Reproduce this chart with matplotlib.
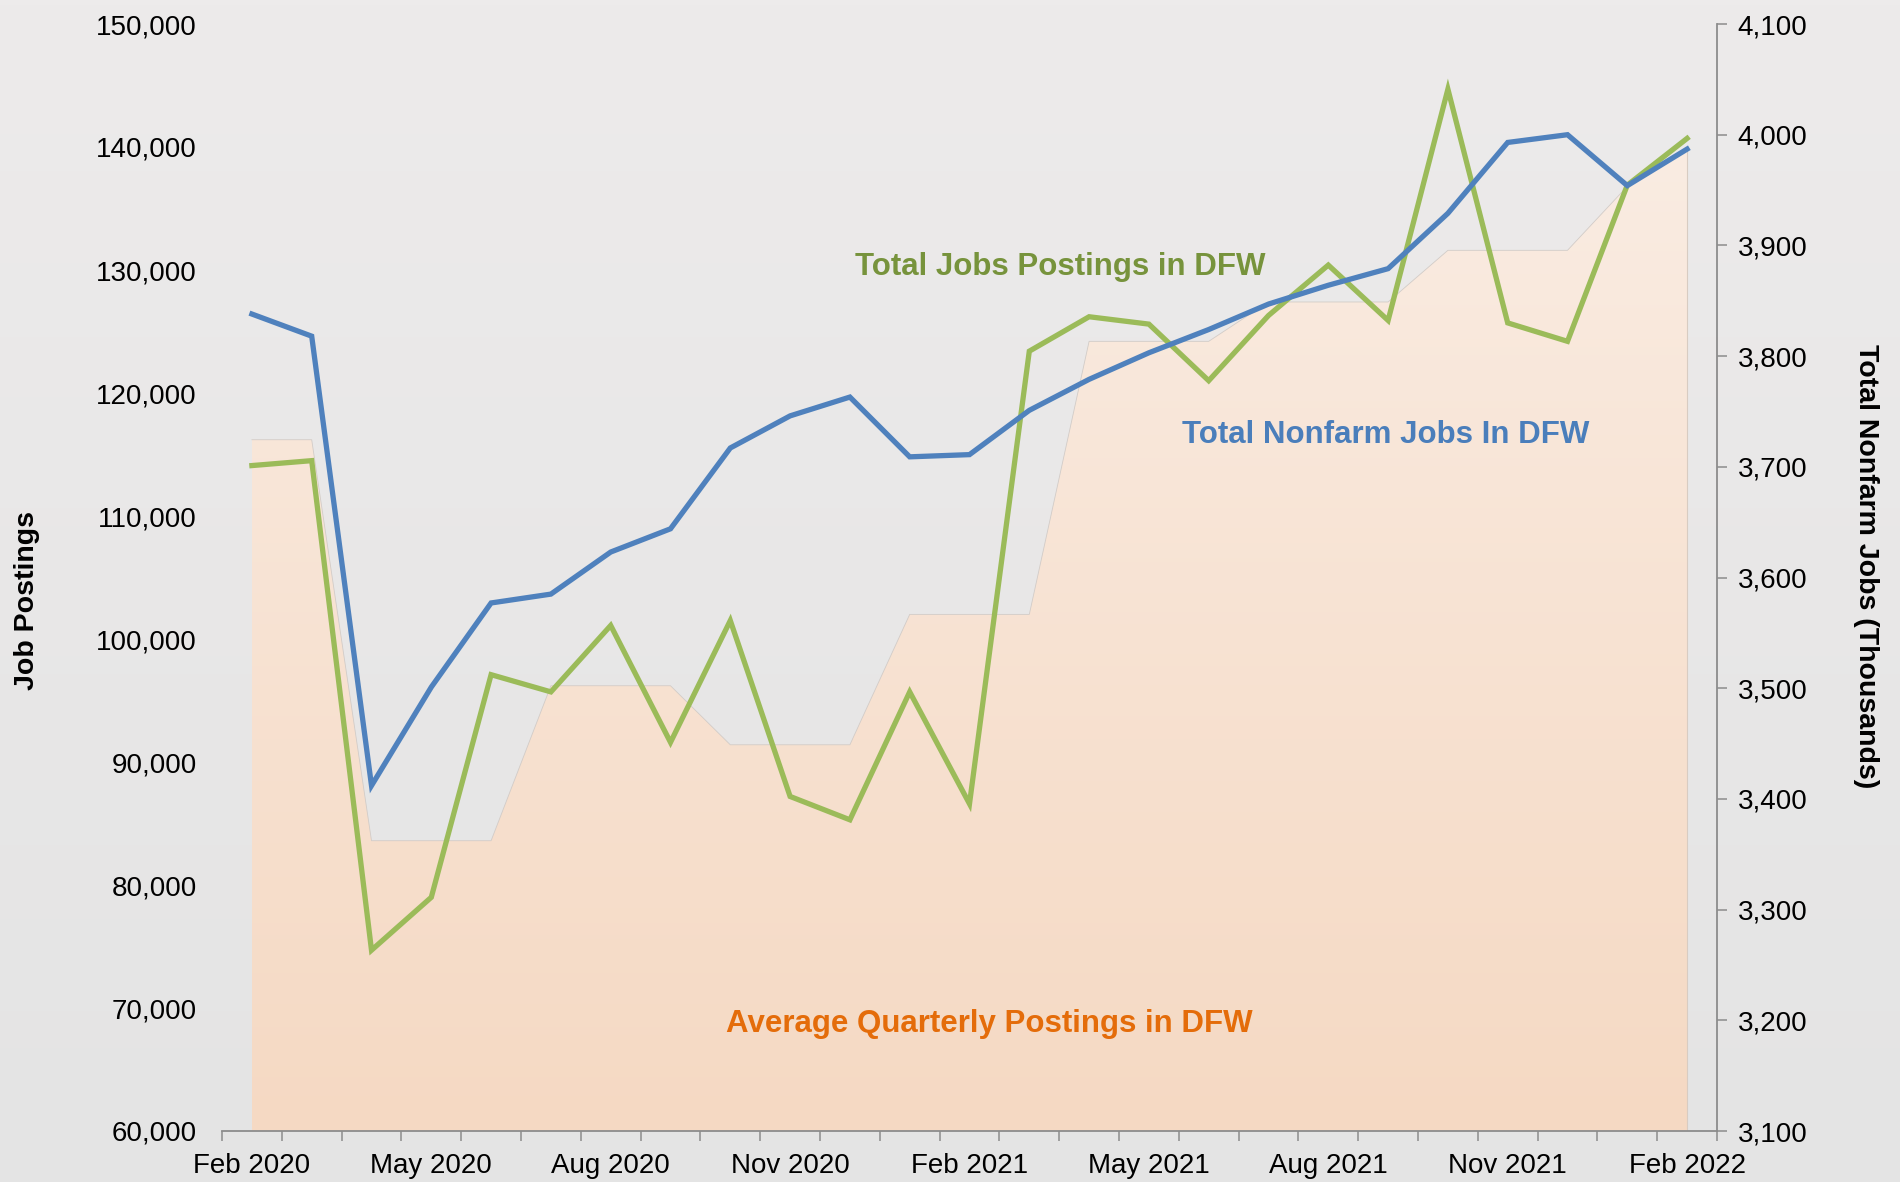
import numpy as np
import matplotlib.pyplot as plt
from matplotlib.colors import LinearSegmentedColormap
from matplotlib.ticker import FuncFormatter, FixedLocator

plt.rcParams['font.family'] = ['Liberation Sans', 'DejaVu Sans']

# Dados mensais (Feb 2020 - Feb 2022)
months = ["Feb 2020", "Mar 2020", "Apr 2020", "May 2020", "Jun 2020", "Jul 2020",
          "Aug 2020", "Sep 2020", "Oct 2020", "Nov 2020", "Dec 2020", "Jan 2021",
          "Feb 2021", "Mar 2021", "Apr 2021", "May 2021", "Jun 2021", "Jul 2021",
          "Aug 2021", "Sep 2021", "Oct 2021", "Nov 2021", "Dec 2021", "Jan 2022",
          "Feb 2022"]

job_postings = [114100, 114500, 74700, 79000, 97100, 95700, 101100, 91600, 101500,
                87200, 85300, 95700, 86600, 123400, 126200, 125600, 121000, 126300,
                130400, 125900, 144700, 125700, 124200, 136900, 140700]

avg_quarterly = [116200, 116200, 83600, 83600, 83600, 96200, 96200, 96200, 91400,
                 91400, 91400, 102000, 102000, 102000, 124200, 124200, 124200,
                 127400, 127400, 127400, 131600, 131600, 131600, 136800, 139700]

nonfarm = [3838, 3818, 3412, 3501, 3577, 3585, 3623, 3644, 3717, 3746, 3763, 3709,
           3711, 3751, 3779, 3803, 3824, 3847, 3864, 3879, 3929, 3993, 4000, 3954,
           3987]

x = np.arange(len(months))

fig = plt.figure(figsize=(19, 11.82), dpi=100)

# fundo com gradiente
bg = fig.add_axes([0, 0, 1, 1], zorder=-10)
bg_cmap = LinearSegmentedColormap.from_list("bg", ["#E4E4E4", "#EDEBEB"])
bg.imshow(np.linspace(0, 1, 256).reshape(-1, 1), aspect="auto", cmap=bg_cmap,
          origin="lower", extent=[0, 1, 0, 1])
bg.axis("off")

ax = fig.add_axes([222 / 1900, 1 - 1131 / 1182, (1717 - 222) / 1900, (1131 - 24) / 1182])
ax.patch.set_alpha(0)
ax2 = ax.twinx()

# area com gradiente
poly = ax.fill_between(x, 60000, avg_quarterly, facecolor="none", edgecolor="none")
area_cmap = LinearSegmentedColormap.from_list("area", ["#F5D9C3", "#FAECE2"])
img = ax.imshow(np.linspace(0, 1, 256).reshape(-1, 1), aspect="auto", cmap=area_cmap,
                origin="lower", extent=[x[0], x[-1], 60000, 140000], zorder=1)
img.set_clip_path(poly.get_paths()[0], transform=ax.transData)
ax.plot(x, avg_quarterly, color="#D2CCC8", lw=0.6, zorder=1.5)
ax.plot([x[-1], x[-1]], [60000, avg_quarterly[-1]], color="#D8CCC2", lw=0.8, zorder=1.5)

ax.plot(x, job_postings, color="#9BBB59", lw=3.8, solid_joinstyle="miter", zorder=3)
ax2.plot(x, nonfarm, color="#4F81BD", lw=3.8, solid_joinstyle="miter", zorder=3)

ax.set_xlim(-0.5, len(months) - 0.5)
ax.set_ylim(60000, 150000)
ax2.set_ylim(3100, 4100)
ax.set_yticks(np.arange(60000, 150001, 10000))
ax2.set_yticks(np.arange(3100, 4101, 100))
fmt = FuncFormatter(lambda v, p: f"{v:,.0f}")
ax.yaxis.set_major_formatter(fmt)
ax2.yaxis.set_major_formatter(fmt)

ax.set_xticks(x[::3])
ax.set_xticklabels(months[::3])
ax.xaxis.set_minor_locator(FixedLocator(np.arange(-0.5, len(months), 1)))

for a in (ax, ax2):
    for s in a.spines.values():
        s.set_visible(False)
ax.spines["bottom"].set_visible(True)
ax.spines["bottom"].set_color("#8C8C8C")
ax.spines["bottom"].set_linewidth(1.3)
ax2.spines["right"].set_visible(True)
ax2.spines["right"].set_color("#8C8C8C")
ax2.spines["right"].set_linewidth(1.3)

ax.tick_params(axis="x", which="major", length=0, pad=16, labelsize=20)
ax.tick_params(axis="x", which="minor", length=7, width=1.1, color="#8C8C8C")
ax.tick_params(axis="y", length=0, pad=18, labelsize=20)
ax2.tick_params(axis="y", length=7, width=1.1, color="#8C8C8C", pad=8, labelsize=20)

fig.text(27 / 1900, 1 - 600 / 1182, "Job Postings", rotation=90, fontsize=20.5,
         fontweight="bold", ha="center", va="center")
fig.text(1866 / 1900, 1 - 566 / 1182, "Total Nonfarm Jobs (Thousands)", rotation=270,
         fontsize=20.5, fontweight="bold", ha="center", va="center")

fig.text(1060 / 1900, 1 - 267 / 1182, "Total Jobs Postings in DFW", color="#77933C",
         fontsize=22.5, fontweight="bold", ha="center", va="center")
fig.text(1386 / 1900, 1 - 435 / 1182, "Total Nonfarm Jobs In DFW", color="#4A7EBB",
         fontsize=22.5, fontweight="bold", ha="center", va="center")
fig.text(989 / 1900, 1 - 1024 / 1182, "Average Quarterly Postings in DFW", color="#E46C0A",
         fontsize=22.5, fontweight="bold", ha="center", va="center")

plt.savefig("out.png", dpi=100)
plt.close()
